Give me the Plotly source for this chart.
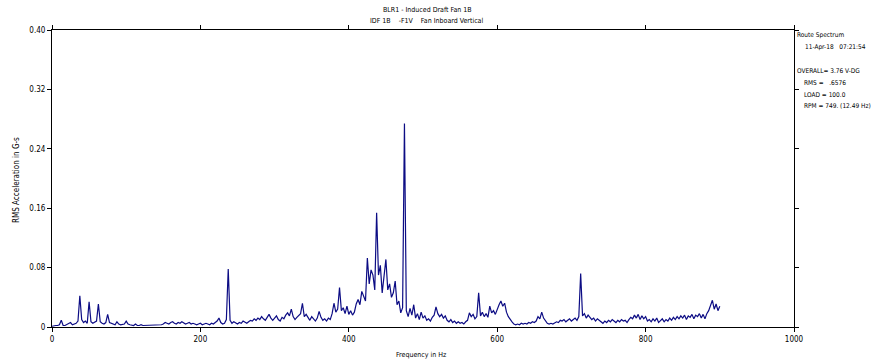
import numpy as np
import plotly.graph_objects as go

# Spectral resolution (Hz per line) and amplitude (G-s RMS), 0 .. 900 Hz
FREQ_STEP = 2.5
amp_000 = [0.001, 0.002, 0.002, 0.002, 0.003, 0.009, 0.002, 0.002, 0.003, 0.004,
           0.006, 0.003, 0.004, 0.005, 0.008, 0.042, 0.010, 0.006, 0.008, 0.005]
amp_050 = [0.034, 0.007, 0.005, 0.006, 0.008, 0.031, 0.007, 0.005, 0.004, 0.006,
           0.017, 0.006, 0.005, 0.004, 0.003, 0.007, 0.004, 0.003, 0.003, 0.004]
amp_100 = [0.008, 0.004, 0.003, 0.003, 0.002, 0.004, 0.002, 0.002, 0.003, 0.002,
           0.002, 0.003, 0.002, 0.002, 0.003, 0.002, 0.002, 0.003, 0.002, 0.003]
amp_150 = [0.004, 0.006, 0.005, 0.004, 0.006, 0.007, 0.005, 0.004, 0.006, 0.005,
           0.007, 0.005, 0.004, 0.005, 0.006, 0.004, 0.005, 0.004, 0.003, 0.004]
amp_200 = [0.005, 0.003, 0.004, 0.005, 0.004, 0.003, 0.005, 0.004, 0.006, 0.008,
           0.012, 0.006, 0.004, 0.005, 0.010, 0.078, 0.009, 0.005, 0.007, 0.006]
amp_250 = [0.004, 0.006, 0.005, 0.008, 0.006, 0.005, 0.007, 0.009, 0.008, 0.011,
           0.009, 0.012, 0.010, 0.014, 0.011, 0.009, 0.013, 0.017, 0.012, 0.009]
amp_300 = [0.012, 0.015, 0.010, 0.008, 0.013, 0.011, 0.016, 0.019, 0.015, 0.024,
           0.014, 0.010, 0.013, 0.016, 0.018, 0.032, 0.014, 0.017, 0.012, 0.009]
amp_350 = [0.014, 0.011, 0.008, 0.012, 0.021, 0.013, 0.009, 0.011, 0.008, 0.012,
           0.010, 0.018, 0.032, 0.020, 0.024, 0.053, 0.022, 0.026, 0.018, 0.028]
amp_400 = [0.017, 0.022, 0.016, 0.020, 0.031, 0.037, 0.030, 0.048, 0.040, 0.035,
           0.093, 0.058, 0.077, 0.070, 0.050, 0.154, 0.070, 0.083, 0.046, 0.066]
amp_450 = [0.091, 0.050, 0.058, 0.040, 0.046, 0.062, 0.030, 0.035, 0.019, 0.026,
           0.274, 0.022, 0.014, 0.025, 0.016, 0.030, 0.012, 0.018, 0.010, 0.020]
amp_500 = [0.012, 0.015, 0.009, 0.011, 0.008, 0.013, 0.016, 0.027, 0.018, 0.014,
           0.017, 0.012, 0.015, 0.009, 0.007, 0.010, 0.006, 0.008, 0.005, 0.007]
amp_550 = [0.005, 0.006, 0.004, 0.007, 0.009, 0.019, 0.014, 0.017, 0.011, 0.014,
           0.046, 0.015, 0.020, 0.014, 0.018, 0.013, 0.028, 0.019, 0.022, 0.017]
amp_600 = [0.024, 0.030, 0.035, 0.028, 0.032, 0.020, 0.014, 0.010, 0.007, 0.004,
           0.003, 0.004, 0.003, 0.005, 0.004, 0.005, 0.004, 0.006, 0.005, 0.007]
amp_650 = [0.006, 0.008, 0.014, 0.011, 0.020, 0.012, 0.008, 0.005, 0.004, 0.005,
           0.004, 0.005, 0.007, 0.006, 0.009, 0.008, 0.010, 0.007, 0.009, 0.011]
amp_700 = [0.008, 0.010, 0.012, 0.009, 0.014, 0.072, 0.015, 0.018, 0.012, 0.016,
           0.013, 0.010, 0.012, 0.008, 0.011, 0.009, 0.007, 0.005, 0.008, 0.006]
amp_750 = [0.009, 0.007, 0.010, 0.008, 0.006, 0.009, 0.007, 0.010, 0.008, 0.009,
           0.006, 0.010, 0.013, 0.011, 0.016, 0.012, 0.017, 0.010, 0.015, 0.011]
amp_800 = [0.014, 0.008, 0.010, 0.007, 0.011, 0.008, 0.012, 0.006, 0.009, 0.011,
           0.007, 0.010, 0.008, 0.012, 0.009, 0.013, 0.010, 0.014, 0.011, 0.015]
amp_850 = [0.012, 0.016, 0.010, 0.015, 0.013, 0.017, 0.011, 0.016, 0.014, 0.018,
           0.012, 0.017, 0.011, 0.018, 0.022, 0.030, 0.036, 0.024, 0.031, 0.022]
amp_900 = [0.028]

x_tick_vals = [0, 200, 400, 600, 800, 1000]
x_tick_text = ["0", "200", "400", "600", "800", "1000"]
y_tick_vals = [0, 0.08, 0.16, 0.24, 0.32, 0.40]
y_tick_text = ["0", "0.08", "0.16", "0.24", "0.32", "0.40"]

title_1 = "BLR1 - Induced Draft Fan 1B"
title_2 = "IDF 1B&nbsp;&nbsp;&nbsp;&nbsp;-F1V&nbsp;&nbsp;&nbsp;&nbsp;Fan Inboard Vertical"
info_lines = [
    ("Route Spectrum", 0.0),
    ("11-Apr-18&nbsp;&nbsp;&nbsp;07:21:54", 8),
    ("OVERALL= 3.76 V-DG", 0.0),
    ("RMS =&nbsp;&nbsp;&nbsp;.6576", 7),
    ("LOAD = 100.0", 7),
    ("RPM = 749. (12.49 Hz)", 7),
]
info_y_px = [35, 47, 71, 83, 95, 106]

amp = (amp_000 + amp_050 + amp_100 + amp_150 + amp_200 + amp_250 + amp_300 +
       amp_350 + amp_400 + amp_450 + amp_500 + amp_550 + amp_600 + amp_650 +
       amp_700 + amp_750 + amp_800 + amp_850 + amp_900)
freq = np.arange(len(amp)) * FREQ_STEP

FONT = "Liberation Sans Narrow, DejaVu Sans Condensed, Liberation Sans, sans-serif"
W, H = 881, 360
PL, PR, PT, PB = 52, 794, 30, 327          # plot box in page pixels
L, T, R, B = PL, PT, W - PR, H - PB
pw, ph = W - L - R, H - T - B

def px_x(px):
    return (px - PL) / pw

def px_y(py):
    return (PB - py) / ph

fig = go.Figure()
fig.add_trace(go.Scatter(x=freq, y=amp, mode="lines",
                         line=dict(color="#0c0c84", width=1.2),
                         hoverinfo="skip", showlegend=False))

axis_common = dict(showgrid=False, zeroline=False, showline=True,
                   linecolor="black", linewidth=1, mirror="ticks",
                   ticks="outside", ticklen=4, tickcolor="black",
                   tickfont=dict(family=FONT, size=8, color="black"))
fig.update_xaxes(range=[0, 1000], tickvals=x_tick_vals, ticktext=x_tick_text,
                 **axis_common)
fig.update_yaxes(range=[0, 0.40], tickvals=y_tick_vals, ticktext=y_tick_text,
                 **axis_common)

ann = []
ann.append(dict(text=title_1, x=px_x(428), y=px_y(10), xref="paper", yref="paper",
                showarrow=False, xanchor="center", yanchor="middle",
                font=dict(family=FONT, size=7, color="black")))
ann.append(dict(text=title_2, x=px_x(426), y=px_y(21), xref="paper", yref="paper",
                showarrow=False, xanchor="center", yanchor="middle",
                font=dict(family=FONT, size=7, color="black")))
for (txt, indent), py in zip(info_lines, info_y_px):
    ann.append(dict(text=txt, x=px_x(797 + indent), y=px_y(py), xref="paper",
                    yref="paper", showarrow=False, xanchor="left",
                    yanchor="middle", xshift=-2,
                    font=dict(family=FONT, size=6.5, color="black")))
ann.append(dict(text="RMS Acceleration in G-s", x=px_x(17), y=px_y(180),
                xref="paper", yref="paper", showarrow=False, textangle=-90,
                xanchor="center", yanchor="middle",
                font=dict(family=FONT, size=8, color="black")))
ann.append(dict(text="Frequency in Hz", x=px_x(421), y=px_y(355),
                xref="paper", yref="paper", showarrow=False,
                xanchor="center", yanchor="middle",
                font=dict(family=FONT, size=7, color="black")))

fig.update_layout(width=W, height=H, margin=dict(l=L, r=R, t=T, b=B),
                  paper_bgcolor="white", plot_bgcolor="white",
                  annotations=ann, showlegend=False, hovermode=False)

fig.write_html("out.html",
               config={"displayModeBar": False, "staticPlot": True},
               post_script="document.body.style.margin='0';"
                           "document.body.style.overflow='hidden';")
